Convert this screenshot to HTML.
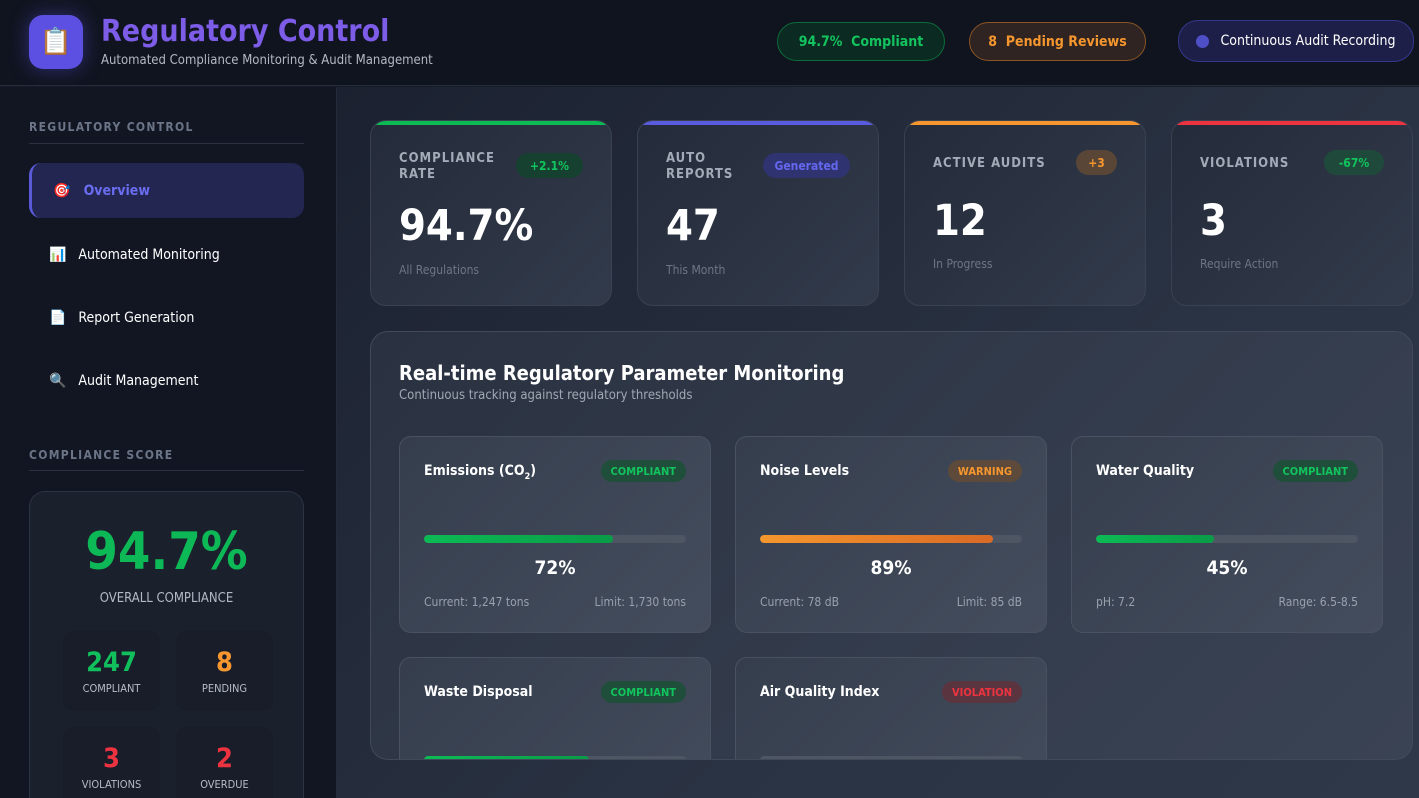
<!DOCTYPE html>
<html style="width:1419px;height:798px;overflow:hidden"><head><meta charset="utf-8"><style>
*{box-sizing:border-box;margin:0;padding:0}
body{width:1419px;height:798px;overflow:hidden;background:#151b29;font-family:"DejaVu Sans Condensed","DejaVu Sans","Liberation Sans",sans-serif;color:#fff;position:relative}
.a{position:absolute}
#hdr{left:0;top:0;width:1419px;height:86px;background:#10141f;border-bottom:1px solid #262c3a}
#side{left:0;top:87px;width:337px;height:711px;background:#111622;border-right:1px solid #252b38;overflow:hidden}
#main{left:337px;top:87px;width:1082px;height:711px;background:linear-gradient(135deg,#1b2130,#2a3343 60%,#2e3848)}
.pill{height:39px;border-radius:20px;font-size:14px;font-weight:bold;display:flex;align-items:center;justify-content:center}
.st{font-size:12px;font-weight:bold;letter-spacing:1.3px;color:#6b7587}
.ln{height:1px;background:#2a3140}
.nav{font-size:14px;color:#fff;display:flex;align-items:center}
.kpi{top:120px;width:242px;height:186px;border-radius:16px;background:linear-gradient(135deg,#242b3a,#323b4b);border:1px solid #3a4252;overflow:hidden}
.kpi .bar{position:absolute;left:0;top:0;width:100%;height:4px}
.kl{position:absolute;left:28px;font-size:13px;font-weight:bold;letter-spacing:1px;color:#a3abb9;line-height:16px}
.kb{position:absolute;height:25px;border-radius:13px;font-size:12px;font-weight:bold;display:flex;align-items:center;justify-content:center}
.kv{position:absolute;left:28px;font-size:43px;font-weight:bold}
.ks{position:absolute;left:28px;font-size:12px;color:#6d7686}
.pc{width:312px;height:197px;border-radius:12px;background:linear-gradient(135deg,#353e4d,#444d5d);border:1px solid #4a5262}
.pt{position:absolute;left:24px;top:26px;font-size:14px;font-weight:bold}
.pb{position:absolute;right:24px;top:23px;height:22px;border-radius:11px;font-size:11px;font-weight:bold;padding:0 10px;display:flex;align-items:center}
.tr{position:absolute;left:24px;right:24px;top:98px;height:8px;border-radius:4px;background:#4e5664;overflow:hidden}
.tr div{height:100%;border-radius:4px}
.pp{position:absolute;left:0;width:100%;top:120px;text-align:center;font-size:19px;font-weight:bold}
.pf{position:absolute;left:24px;right:24px;top:158px;font-size:12px;color:#99a1ae;display:flex;justify-content:space-between}
.sb{width:97px;height:80px;border-radius:10px;background:#181d29;text-align:center}
.sb b{display:block;font-size:27px;margin-top:16px}
.sb span{display:block;font-size:11px;color:#b5bcc7;margin-top:4px}
</style></head><body>
<div id="hdr" class="a">
 <div class="a" style="left:29px;top:15px;width:54px;height:54px;border-radius:14px;background:#5b50e2;box-shadow:0 0 20px rgba(91,80,226,.45);font-size:26px;display:flex;align-items:center;justify-content:center">📋</div>
 <div class="a" style="left:101px;top:14px;font-size:30px;font-weight:bold;color:#7d5ce8">Regulatory Control</div>
 <div class="a" style="left:101px;top:53px;font-size:13px;color:#b3b9c4">Automated Compliance Monitoring &amp; Audit Management</div>
 <div class="a pill" style="left:777px;top:22px;width:168px;background:#0b2b22;border:1px solid #0c6b3a;color:#13c45e">94.7%&nbsp; Compliant</div>
 <div class="a pill" style="left:969px;top:22px;width:177px;background:#2f2421;border:1px solid #8a5424;color:#f5962e">8&nbsp; Pending Reviews</div>
 <div class="a pill" style="left:1178px;top:20px;width:236px;height:42px;background:#1d1f48;border:1px solid #33378a;color:#fff;font-weight:normal"><span style="width:13px;height:13px;border-radius:50%;background:#4e4fc7;margin-right:11px"></span>Continuous Audit Recording</div>
</div>
<div id="side" class="a">
 <div class="a st" style="left:29px;top:33px">REGULATORY CONTROL</div>
 <div class="a ln" style="left:29px;top:56px;width:275px"></div>
 <div class="a nav" style="left:29px;top:76px;width:275px;height:55px;border-radius:12px;background:#222650;border-left:3px solid #5a5ad8;padding-left:21px;color:#6a6df0;font-weight:bold">🎯&nbsp;&nbsp;&nbsp;Overview</div>
 <div class="a nav" style="left:49px;top:160px">📊&nbsp;&nbsp;&nbsp;Automated Monitoring</div>
 <div class="a nav" style="left:49px;top:223px">📄&nbsp;&nbsp;&nbsp;Report Generation</div>
 <div class="a nav" style="left:49px;top:286px">🔍&nbsp;&nbsp;&nbsp;Audit Management</div>
 <div class="a st" style="left:29px;top:361px">COMPLIANCE SCORE</div>
 <div class="a ln" style="left:29px;top:383px;width:275px"></div>
 <div class="a" style="left:29px;top:404px;width:275px;height:307px;border-radius:16px 16px 0 0;background:#1b202d;border:1px solid #2c3342;border-bottom:none;overflow:hidden">
  <div class="a" style="left:0;width:100%;top:30px;text-align:center;font-size:52px;font-weight:bold;color:#0db956">94.7%</div>
  <div class="a" style="left:0;width:100%;top:99px;text-align:center;font-size:13px;color:#b3bac5">OVERALL COMPLIANCE</div>
  <div class="a sb" style="left:33px;top:139px"><b style="color:#11c05c">247</b><span>COMPLIANT</span></div>
  <div class="a sb" style="left:146px;top:139px"><b style="color:#f5962e">8</b><span>PENDING</span></div>
  <div class="a sb" style="left:33px;top:235px"><b style="color:#ee3340">3</b><span>VIOLATIONS</span></div>
  <div class="a sb" style="left:146px;top:235px"><b style="color:#ee3340">2</b><span>OVERDUE</span></div>
 </div>
</div>
<div id="main" class="a"></div>
<div class="a kpi" style="left:370px"><div class="bar" style="background:#0dbb55"></div><div class="kl" style="top:30px">COMPLIANCE<br>RATE</div><div class="kb" style="left:145px;top:32px;width:67px;background:#16402f;color:#12c45d">+2.1%</div><div class="kv" style="top:80px">94.7%</div><div class="ks" style="top:142px">All Regulations</div></div>
<div class="a kpi" style="left:637px"><div class="bar" style="background:#5b5be0"></div><div class="kl" style="top:30px">AUTO<br>REPORTS</div><div class="kb" style="left:125px;top:32px;width:87px;background:#2f3370;color:#6467ee">Generated</div><div class="kv" style="top:80px">47</div><div class="ks" style="top:142px">This Month</div></div>
<div class="a kpi" style="left:904px"><div class="bar" style="background:#f5962e"></div><div class="kl" style="top:35px">ACTIVE AUDITS</div><div class="kb" style="left:171px;top:29px;width:41px;background:#5a4636;color:#f5962e">+3</div><div class="kv" style="top:75px">12</div><div class="ks" style="top:136px">In Progress</div></div>
<div class="a kpi" style="left:1171px"><div class="bar" style="background:#ee3340"></div><div class="kl" style="top:35px">VIOLATIONS</div><div class="kb" style="left:152px;top:29px;width:60px;background:#1f4a3b;color:#12c45d">-67%</div><div class="kv" style="top:75px">3</div><div class="ks" style="top:136px">Require Action</div></div>
<div class="a" style="left:370px;top:331px;width:1043px;height:429px;border-radius:18px;background:linear-gradient(135deg,#2a3241,#3a4354);border:1px solid #414a5a;overflow:hidden">
 <div class="a" style="left:28px;top:29px;font-size:20px;font-weight:bold">Real-time Regulatory Parameter Monitoring</div>
 <div class="a" style="left:28px;top:56px;font-size:13px;color:#a0a8b5">Continuous tracking against regulatory thresholds</div>
 <div class="a pc" style="left:28px;top:104px"><div class="pt">Emissions (CO<sub style="font-size:9px">2</sub>)</div><div class="pb" style="background:#1f4e3b;color:#12c45d">COMPLIANT</div><div class="tr"><div style="width:72%;background:linear-gradient(90deg,#0cbb55,#0a9b47)"></div></div><div class="pp">72%</div><div class="pf"><span>Current: 1,247 tons</span><span>Limit: 1,730 tons</span></div></div>
 <div class="a pc" style="left:364px;top:104px"><div class="pt">Noise Levels</div><div class="pb" style="background:#5e4a3a;color:#f5962e">WARNING</div><div class="tr"><div style="width:89%;background:linear-gradient(90deg,#f5962e,#d96a25)"></div></div><div class="pp">89%</div><div class="pf"><span>Current: 78 dB</span><span>Limit: 85 dB</span></div></div>
 <div class="a pc" style="left:700px;top:104px"><div class="pt">Water Quality</div><div class="pb" style="background:#1f4e3b;color:#12c45d">COMPLIANT</div><div class="tr"><div style="width:45%;background:linear-gradient(90deg,#0cbb55,#0a9b47)"></div></div><div class="pp">45%</div><div class="pf"><span>pH: 7.2</span><span>Range: 6.5-8.5</span></div></div>
 <div class="a pc" style="left:28px;top:325px"><div class="pt">Waste Disposal</div><div class="pb" style="background:#1f4e3b;color:#12c45d">COMPLIANT</div><div class="tr"><div style="width:63%;background:linear-gradient(90deg,#0cbb55,#0a9b47)"></div></div></div>
 <div class="a pc" style="left:364px;top:325px"><div class="pt">Air Quality Index</div><div class="pb" style="background:#5a3540;color:#ee3340">VIOLATION</div><div class="tr"><div style="width:0"></div></div></div>
</div>
</body></html>
